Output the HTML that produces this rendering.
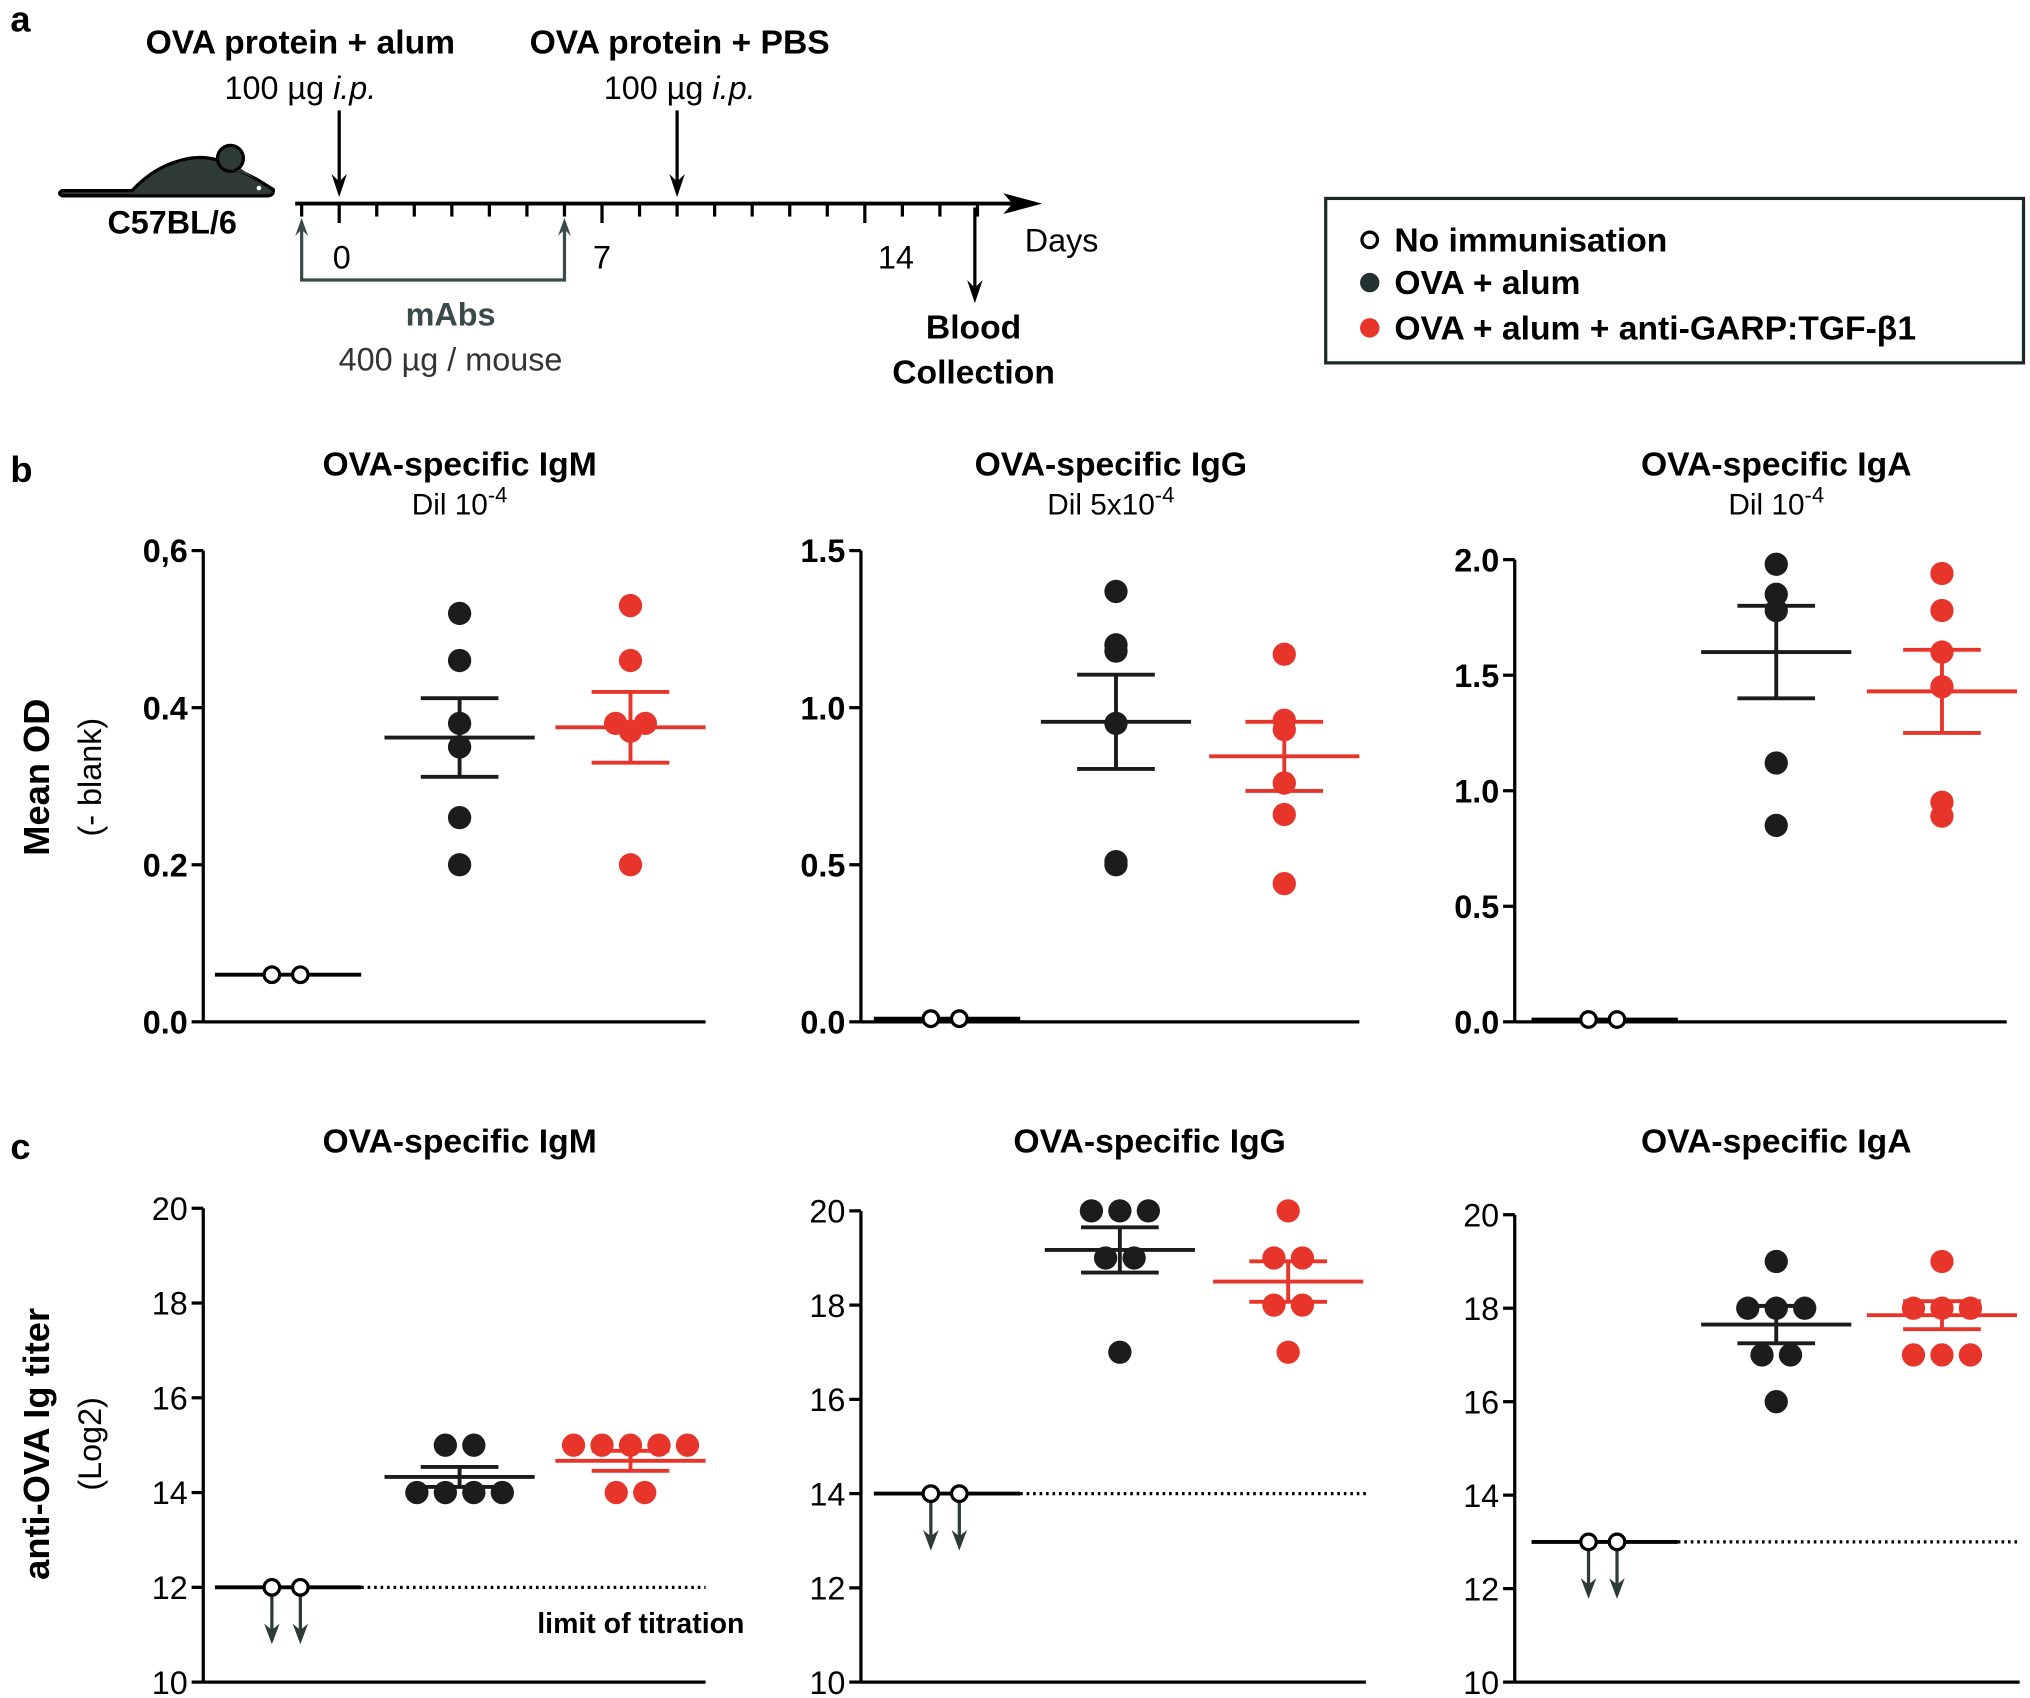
<!DOCTYPE html>
<html><head><meta charset="utf-8"><style>
html,body{margin:0;padding:0;background:#fff}
svg{display:block}
text{font-family:"Liberation Sans",Arial,sans-serif}
</style></head><body>
<svg id="fig" width="2030" height="1698" viewBox="0 0 1568 1311" xmlns="http://www.w3.org/2000/svg">
<g>
<text x="8" y="24" font-size="28" font-weight="bold">a</text>
<text x="232" y="41" font-size="26" font-weight="bold" text-anchor="middle">OVA protein + alum</text>
<text x="232" y="76" font-size="25" text-anchor="middle">100 µg <tspan font-style="italic">i.p.</tspan></text>
<text x="525" y="41" font-size="26" font-weight="bold" text-anchor="middle">OVA protein + PBS</text>
<text x="525" y="76" font-size="25" text-anchor="middle">100 µg <tspan font-style="italic">i.p.</tspan></text>
<g>
<path d="M48,147 L102,147 Q120,127 146,122 Q166,119 182,130 L198,138 L211,146 Q212,151 206,151 L48,151 Q44,149 48,147 Z" fill="#2e3a36" stroke="#000" stroke-width="2.5" stroke-linejoin="round"/>
<circle cx="178" cy="122" r="10" fill="#2e3a36" stroke="#000" stroke-width="2.5"/>
<path d="M171,127 Q180,134 186,130 L198,138" fill="#2e3a36" stroke="none"/>
<circle cx="200" cy="145" r="1.8" fill="#fff"/>
</g>
<text x="133" y="180" font-size="25" font-weight="bold" text-anchor="middle">C57BL/6</text>
<g id="timeline"></g>
<text x="820" y="194" font-size="25" text-anchor="middle">Days</text>
<text x="264" y="207" font-size="25" text-anchor="middle">0</text>
<text x="465" y="207" font-size="25" text-anchor="middle">7</text>
<text x="692" y="207" font-size="25" text-anchor="middle">14</text>
<g>
<line x1="262" y1="85" x2="262" y2="145" stroke="#000" stroke-width="2.5"/>
<path d="M256,134 L262,152 L268,134 L262,140 Z" fill="#000"/>
<line x1="523" y1="85" x2="523" y2="145" stroke="#000" stroke-width="2.5"/>
<path d="M517,134 L523,152 L529,134 L523,140 Z" fill="#000"/>
<line x1="753" y1="160" x2="753" y2="226" stroke="#000" stroke-width="2.5"/>
<path d="M747,216 L753,234 L759,216 L753,222 Z" fill="#000"/>
</g>
<text x="752" y="261" font-size="26" font-weight="bold" text-anchor="middle">Blood</text>
<text x="752" y="296" font-size="26" font-weight="bold" text-anchor="middle">Collection</text>
<path d="M233,172 L233,216 L436,216 L436,172" fill="none" stroke="#3a4a4a" stroke-width="2.5"/>
<path d="M228,182 L233,168 L238,182 L233,177 Z M431,182 L436,168 L441,182 L436,177 Z" fill="#3a4a4a"/>
<text x="348" y="251" font-size="25" font-weight="bold" fill="#3a4a4a" text-anchor="middle">mAbs</text>
<text x="348" y="286" font-size="25" fill="#333" text-anchor="middle">400 µg / mouse</text>
</g>
<g>
<rect x="1024" y="153" width="539" height="127" fill="#fff" stroke="#1e2a28" stroke-width="2.5"/>
<circle cx="1058" cy="185" r="6" fill="#fff" stroke="#000" stroke-width="2.5"/>
<text x="1077" y="194" font-size="26" font-weight="bold">No immunisation</text>
<circle cx="1058" cy="218" r="7.5" fill="#233230"/>
<text x="1077" y="227" font-size="26" font-weight="bold">OVA + alum</text>
<circle cx="1058" cy="253" r="7.5" fill="#e8352b"/>
<text x="1077" y="262" font-size="26" font-weight="bold">OVA + alum + anti-GARP:TGF-β1</text>
</g>
<text x="8" y="372" font-size="28" font-weight="bold">b</text>
<text x="8" y="895" font-size="28" font-weight="bold">c</text>
<text transform="translate(38,600) rotate(-90)" font-size="28" font-weight="bold" text-anchor="middle">Mean OD</text>
<text transform="translate(78,600) rotate(-90)" font-size="25" text-anchor="middle">(- blank)</text>
<text transform="translate(38,1115) rotate(-90)" font-size="28" font-weight="bold" text-anchor="middle">anti-OVA Ig titer</text>
<text transform="translate(78,1115) rotate(-90)" font-size="25" text-anchor="middle">(Log2)</text>
<g id="plots"></g>
</svg>
<script>
// Panel b data (Mean OD)
const bIgM_open=[0.06,0.06], bIgM_black=[0.52,0.46,0.38,0.35,0.26,0.20], bIgM_red=[0.53,0.46,0.38,0.37,0.38,0.20];
const bIgM_meanBlack=0.362, bIgM_semBlack=0.05, bIgM_meanRed=0.375, bIgM_semRed=0.045;
const bIgG_open=[0.01,0.01], bIgG_black=[1.37,1.2,1.18,0.95,0.51,0.5], bIgG_red=[1.17,0.96,0.93,0.76,0.66,0.44];
const bIgG_meanBlack=0.955, bIgG_semBlack=0.15, bIgG_meanRed=0.845, bIgG_semRed=0.11;
const bIgA_open=[0.01,0.01], bIgA_black=[1.98,1.85,1.78,1.12,0.85], bIgA_red=[1.94,1.78,1.6,1.45,0.95,0.89];
const bIgA_meanBlack=1.6, bIgA_semBlack=0.2, bIgA_meanRed=1.43, bIgA_semRed=0.18;
const bTicksIgM=["0.0","0.2","0.4","0,6"], bTicksIgG=["0.0","0.5","1.0","1.5"], bTicksIgA=["0.0","0.5","1.0","1.5","2.0"];
// Panel c data (Log2 titer)
const cIgM_open=[12,12], cIgM_black=[15,15,14,14,14,14], cIgM_red=[15,15,15,15,15,14,14];
const cIgM_meanBlack=14.33, cIgM_semBlack=0.21, cIgM_meanRed=14.67, cIgM_semRed=0.21;
const cIgG_open=[14,14], cIgG_black=[20,20,20,19,19,17], cIgG_red=[20,19,19,18,18,17];
const cIgG_meanBlack=19.17, cIgG_semBlack=0.48, cIgG_meanRed=18.5, cIgG_semRed=0.43;
const cIgA_open=[13,13], cIgA_black=[19,18,18,18,17,17,16], cIgA_red=[19,18,18,18,17,17,17];
const cIgA_meanBlack=17.65, cIgA_semBlack=0.4, cIgA_meanRed=17.85, cIgA_semRed=0.3;
const cTicks=[10,12,14,16,18,20];
const limits={IgM:12,IgG:14,IgA:13};

const NS="http://www.w3.org/2000/svg";
const root=document.getElementById('plots');
function el(tag,attrs,parent){const e=document.createElementNS(NS,tag);for(const k in attrs)e.setAttribute(k,attrs[k]);(parent||root).appendChild(e);return e;}
function txt(s,attrs,parent){const e=el('text',attrs,parent);e.textContent=s;return e;}

// timeline
const tl=document.getElementById('timeline');
const dayX=d=>262+29*d;
el('line',{x1:228,y1:157,x2:790,y2:157,stroke:'#000','stroke-width':3},tl);
el('path',{d:'M775,149 L805,157 L775,165 L782,157 Z',fill:'#000'},tl);
for(let d=-1;d<=17;d++){const t=el('line',{x1:dayX(d),y1:157,x2:dayX(d),y2:d%7==0?172:167,stroke:'#000','stroke-width':2.5},tl);

}

function plot(cfg){
  const g=el('g',{});
  
  
  const y=v=>cfg.y0-(v-cfg.vmin)/(cfg.vmax-cfg.vmin)*(cfg.y0-cfg.y1);
  const t1=txt(cfg.title,{x:cfg.cx,y:cfg.titleY,'font-size':26,'font-weight':'bold','text-anchor':'middle'},g);
  
  
  if(cfg.dil){const d=txt('',{x:cfg.cx,y:cfg.titleY+30,'font-size':23,'text-anchor':'middle'},g);
    d.textContent='Dil '+cfg.dil;const s=el('tspan',{dy:-9,'font-size':17},d);s.textContent='-4';}
  el('line',{x1:cfg.ax,y1:cfg.y0,x2:cfg.ax,y2:cfg.y1,stroke:'#000','stroke-width':2.5},g);
  el('line',{x1:cfg.ax,y1:cfg.y0,x2:cfg.xEnd,y2:cfg.y0,stroke:'#000','stroke-width':2.5},g);
  cfg.ticks.forEach(tk=>{const v=parseFloat(String(tk).replace(',','.'));const yy=y(v);
    el('line',{x1:cfg.ax-9,y1:yy,x2:cfg.ax,y2:yy,stroke:'#000','stroke-width':2.5},g);
    const l=txt(String(tk),{x:cfg.ax-12,y:yy+9,'font-size':25,'font-weight':cfg.boldTicks?'bold':'normal','text-anchor':'end'},g);
    
    });
  if(cfg.limit!==undefined){el('line',{x1:cfg.gx[0]+58,y1:y(cfg.limit),x2:cfg.xEnd,y2:y(cfg.limit),stroke:'#000','stroke-width':2.5,'stroke-dasharray':'2,3'},g);}
  function group(vals,mean,sem,cx,color,open){
    const counts={};vals.forEach(v=>counts[v]=(counts[v]||0)+1);const seen={};
    const sp=cfg.discrete?22:23;
    el('line',{x1:cx-(open?55:58),y1:y(mean),x2:cx+58,y2:y(mean),stroke:color,'stroke-width':3},g);
    if(sem){[mean-sem,mean+sem].forEach(v=>el('line',{x1:cx-30,y1:y(v),x2:cx+30,y2:y(v),stroke:color,'stroke-width':3},g));
      el('line',{x1:cx,y1:y(mean-sem),x2:cx,y2:y(mean+sem),stroke:color,'stroke-width':3},g);}
    vals.forEach(v=>{let n=counts[v],i=seen[v]||0;seen[v]=i+1;
      let xx=cx+(i-(n-1)/2)*sp;
      if(open){xx=cx+(i-0.5)*22;
        if(cfg.arrows){el('line',{x1:xx,y1:y(v)+6,x2:xx,y2:y(v)+40,stroke:'#2e3a36','stroke-width':2.5},g);
          el('path',{d:`M${xx-6},${y(v)+28} L${xx},${y(v)+44} L${xx+6},${y(v)+28} L${xx},${y(v)+33} Z`,fill:'#2e3a36'},g);}
        const c=el('circle',{cx:xx,cy:y(v),r:6,fill:'#fff',stroke:'#000','stroke-width':2.5},g);
        
        
      } else {
        const c=el('circle',{cx:xx,cy:y(v),r:9,fill:color},g);
        
        
      }});
  }
  const mo=cfg.open.reduce((a,b)=>a+b,0)/cfg.open.length;
  group(cfg.open,mo,0,cfg.gx[0],'#000',true);
  group(cfg.black,cfg.mb,cfg.sb,cfg.gx[1],'#1c1c1c',false);
  group(cfg.red,cfg.mr,cfg.sr,cfg.gx[2],'#e8352b',false);
  return g;
}
const bc=[{name:'plot-b-igm',title:'OVA-specific IgM',dil:'10',cx:355,ax:157,xEnd:545,y0:789,y1:425,vmin:0,vmax:0.6,ticks:bTicksIgM,gx:[221,355,487],open:bIgM_open,black:bIgM_black,red:bIgM_red,mb:bIgM_meanBlack,sb:bIgM_semBlack,mr:bIgM_meanRed,sr:bIgM_semRed},
{name:'plot-b-igg',title:'OVA-specific IgG',dil:'5x10',cx:858,ax:665,xEnd:1050,y0:789,y1:425,vmin:0,vmax:1.5,ticks:bTicksIgG,gx:[730,862,992],open:bIgG_open,black:bIgG_black,red:bIgG_red,mb:bIgG_meanBlack,sb:bIgG_semBlack,mr:bIgG_meanRed,sr:bIgG_semRed},
{name:'plot-b-iga',title:'OVA-specific IgA',dil:'10',cx:1372,ax:1170,xEnd:1550,y0:789,y1:432,vmin:0,vmax:2,ticks:bTicksIgA,gx:[1238,1372,1500],open:bIgA_open,black:bIgA_black,red:bIgA_red,mb:bIgA_meanBlack,sb:bIgA_semBlack,mr:bIgA_meanRed,sr:bIgA_semRed}];
bc.forEach(c=>{c.titleY=367;c.boldTicks=true;c.discrete=false;plot(c);});
const cc=[{name:'plot-c-igm',title:'OVA-specific IgM',cx:355,ax:157,xEnd:545,y0:1299,y1:933,ticks:cTicks,gx:[221,355,487],open:cIgM_open,black:cIgM_black,red:cIgM_red,mb:cIgM_meanBlack,sb:cIgM_semBlack,mr:cIgM_meanRed,sr:cIgM_semRed,limit:limits.IgM},
{name:'plot-c-igg',title:'OVA-specific IgG',cx:888,ax:665,xEnd:1055,y0:1299,y1:935,ticks:cTicks,gx:[730,865,995],open:cIgG_open,black:cIgG_black,red:cIgG_red,mb:cIgG_meanBlack,sb:cIgG_semBlack,mr:cIgG_meanRed,sr:cIgG_semRed,limit:limits.IgG},
{name:'plot-c-iga',title:'OVA-specific IgA',cx:1372,ax:1170,xEnd:1560,y0:1299,y1:938,ticks:cTicks,gx:[1238,1372,1500],open:cIgA_open,black:cIgA_black,red:cIgA_red,mb:cIgA_meanBlack,sb:cIgA_semBlack,mr:cIgA_meanRed,sr:cIgA_semRed,limit:limits.IgA}];
cc.forEach(c=>{c.titleY=890;c.boldTicks=false;c.discrete=true;c.vmin=10;c.vmax=20;c.arrows=true;plot(c);});
const lt=txt('limit of titration',{x:495,y:1261,'font-size':22,'font-weight':'bold','text-anchor':'middle'});


</script>
</body></html>
